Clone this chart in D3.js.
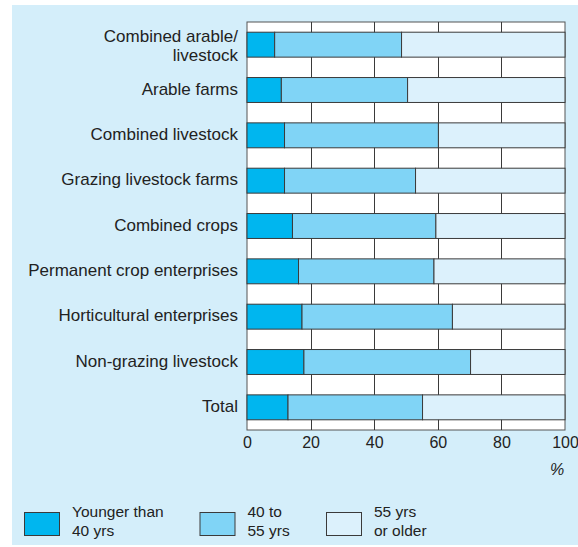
<!DOCTYPE html>
<html><head><meta charset="utf-8">
<script src="https://cdn.jsdelivr.net/npm/d3@7"></script>
<style>html,body{margin:0;padding:0;background:#fff;} svg{display:block;font-family:"Liberation Sans",Arial,sans-serif;}</style>
</head><body><svg id="c" width="578" height="547"></svg>
<script>
const categories = ["Combined arable/\nlivestock", "Arable farms", "Combined livestock", "Grazing livestock farms",
  "Combined crops", "Permanent crop enterprises", "Horticultural enterprises", "Non-grazing livestock", "Total"];
const younger = [8.7, 10.8, 11.8, 11.8, 14.3, 16.2, 17.3, 17.9, 12.9];
const middle  = [39.9, 39.7, 48.4, 41.2, 45.1, 42.6, 47.3, 52.4, 42.3];
const older   = [51.4, 49.5, 39.8, 47.0, 40.6, 41.2, 35.4, 29.7, 44.8];
const seriesNames = ["Younger than\n40 yrs", "40 to\n55 yrs", "55 yrs\nor older"];
const tickValues = [0, 20, 40, 60, 80, 100];
const colors = ["#00b6ef", "#80d4f6", "#dcf1fc"];

const svg = d3.select("#c");
const W = 578, H = 547;

svg.append("rect").attr("x", 12).attr("y", 5).attr("width", W - 12).attr("height", 540).attr("fill", "#d4eefa");

const x = d3.scaleLinear().domain([0, 100]).range([247, 565]);
const y = d3.scaleBand().domain(categories).range([22, 430]).paddingInner(0.45).paddingOuter(0.225);

// plot background
svg.append("rect").attr("x", x(0)).attr("y", 22).attr("width", x(100) - x(0)).attr("height", 408)
  .attr("fill", "#fff").attr("stroke", "#555").attr("stroke-width", 1);

// vertical gridlines
svg.append("g").selectAll("line").data(tickValues.slice(1, -1)).join("line")
  .attr("x1", d => Math.round(x(d)) + 0.5).attr("x2", d => Math.round(x(d)) + 0.5)
  .attr("y1", 22).attr("y2", 430).attr("stroke", "#3a3a3a").attr("stroke-width", 1);

const table = categories.map((c, i) => ({cat: c, a: younger[i], b: middle[i], c2: older[i]}));
const stack = d3.stack().keys(["a", "b", "c2"]);
const layers = stack(table);

svg.append("g").selectAll("g").data(layers).join("g")
  .attr("fill", (d, i) => colors[i])
  .selectAll("rect").data(d => d).join("rect")
  .attr("x", d => x(d[0])).attr("width", d => x(d[1]) - x(d[0]))
  .attr("y", d => y(d.data.cat)).attr("height", y.bandwidth())
  .attr("stroke", "#3a3a3a").attr("stroke-width", 1);

// category labels
const lab = svg.append("g").attr("font-size", 17).attr("fill", "#222").attr("text-anchor", "end");
categories.forEach(c => {
  const lines = c.split("\n");
  const cy = y(c) + y.bandwidth() / 2;
  const lh = 19.3;
  const t = lab.append("text").attr("x", 238)
    .attr("y", cy + 4.5 - (lines.length - 1) * lh / 2 + (lines.length - 1) * 2);
  lines.forEach((l, k) => t.append("tspan").attr("x", 238).attr("dy", k === 0 ? 0 : lh).text(l));
});

// x axis
const ax = svg.append("g").attr("transform", "translate(0,430)")
  .call(d3.axisBottom(x).tickValues(tickValues).tickSize(0).tickPadding(7));
ax.select(".domain").remove();
ax.selectAll("text").attr("font-size", 16).attr("fill", "#222").attr("font-family", "Liberation Sans, Arial, sans-serif");

svg.append("text").attr("x", 557).attr("y", 475).attr("text-anchor", "middle")
  .attr("font-size", 16).attr("font-style", "italic").attr("fill", "#222").text("%");

// legend
const lx = [24, 199.5, 326];
const lg = svg.append("g");
seriesNames.forEach((s, i) => {
  lg.append("rect").attr("x", lx[i] + 0.5).attr("y", 512.5).attr("width", 35).attr("height", 23)
    .attr("fill", colors[i]).attr("stroke", "#3a3a3a").attr("stroke-width", 1);
  const t = lg.append("text").attr("x", lx[i] + 48).attr("y", 516.7).attr("font-size", 15.5).attr("fill", "#222");
  s.split("\n").forEach((l, k) => t.append("tspan").attr("x", lx[i] + 48).attr("dy", k === 0 ? 0 : 19.5).text(l));
});
</script></body></html>
